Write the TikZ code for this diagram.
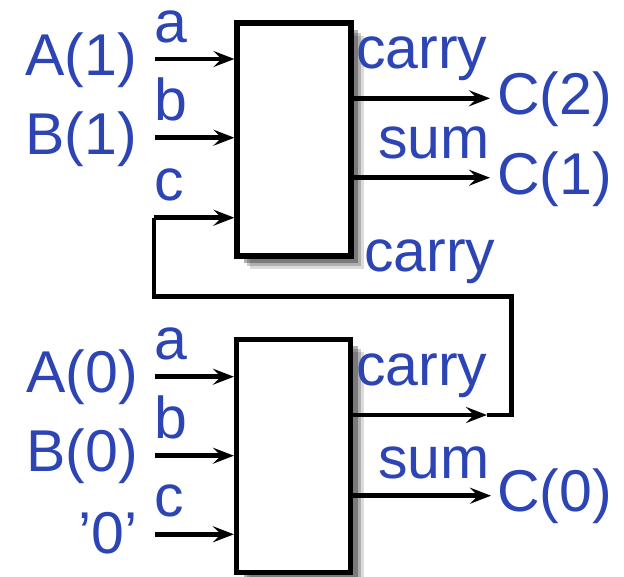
\documentclass[tikz,border=0pt]{standalone}
\usepackage{fontspec}
\setmainfont{Liberation Sans}
\usetikzlibrary{arrows.meta,shadows}
\definecolor{lblue}{RGB}{44,68,180}
\tikzset{
  lbl/.style={inner sep=0pt, text=lblue, font=\fontsize{59}{60}\selectfont, text height=0.72em, text depth=0.2em},
  small/.style={text height=0.55em},
  fabox/.style={draw, line width=5.2pt, fill=white, rectangle, inner sep=0pt,
    minimum width=114pt, minimum height=233pt,
    general shadow={fill=black, opacity=0.14, shadow xshift=13pt, shadow yshift=-13pt},
    general shadow={fill=black, opacity=0.2, shadow xshift=10pt, shadow yshift=-10pt},
    general shadow={fill=black, opacity=0.3, shadow xshift=7pt, shadow yshift=-7pt}},
  wire/.style={line width=4.8pt},
  arr/.style={wire, -{Stealth[length=21pt, width=16pt, inset=8pt]}}
}
\begin{document}
\begin{tikzpicture}[x=1pt, y=-1pt]
\useasboundingbox (0,0) rectangle (624,576);
% boxes
\node[fabox] (U) at (294,139.4) {};
\node[fabox] (L) at (293.5,455.6) {};
% upper inputs
\coordinate (ua) at (155,59);
\coordinate (ub) at (155,137.7);
\coordinate (uc) at (154,217.7);
\draw[arr] (ua) -- (ua -| U.west);
\draw[arr] (ub) -- (ub -| U.west);
% lower inputs
\coordinate (la) at (155,376.7);
\coordinate (lb) at (155,455.7);
\coordinate (lc) at (155,534.3);
\draw[arr] (la) -- (la -| L.west);
\draw[arr] (lb) -- (lb -| L.west);
\draw[arr] (lc) -- (lc -| L.west);
% upper outputs
\coordinate (ucar) at (490,98.3);
\coordinate (usum) at (490,177.7);
\draw[arr] (ucar -| U.east) -- (ucar);
\draw[arr] (usum -| U.east) -- (usum);
% lower outputs
\coordinate (lcar) at (487,415);
\coordinate (lsum) at (491,495.7);
\draw[arr] (lcar -| L.east) -- (lcar);
\draw[arr] (lsum -| L.east) -- (lsum);
% carry loop
\coordinate (r1) at (511.7,415);
\coordinate (r2) at (511.7,296.5);
\coordinate (l2) at (154,296.5);
\draw[wire, line join=miter] (lcar) -- (r1) -- (r2) -- (l2) -- (uc);
\draw[arr] (uc) -- (uc -| U.west);
% labels
\node[lbl, anchor=base east] (tA1) at (137,75) {A(1)};
\node[lbl, anchor=base east] (tB1) at (137,154) {B(1)};
\node[lbl, small, anchor=base west] (ta1) at (154,42.7) {a};
\node[lbl, anchor=base west] (tb1) at (154,120.7) {b};
\node[lbl, small, anchor=base west] (tc1) at (154,200) {c};
\node[lbl, small, anchor=base west] (tcar1) at (356,68.3) {carry};
\node[lbl, anchor=base west] (tC2) at (497,114.3) {C(2)};
\node[lbl, small, anchor=base west] (tsum1) at (378,158.3) {sum};
\node[lbl, anchor=base west] (tC1) at (497,194.3) {C(1)};
\node[lbl, small, anchor=base west] (tcar2) at (364,271.7) {carry};
\node[lbl, anchor=base east] (tA0) at (138,392.7) {A(0)};
\node[lbl, anchor=base east] (tB0) at (138,471.7) {B(0)};
\node[lbl, anchor=base east] (t00) at (138,553.3) {’0’};
\node[lbl, small, anchor=base west] (ta0) at (154,359.3) {a};
\node[lbl, anchor=base west] (tb0) at (154,438) {b};
\node[lbl, small, anchor=base west] (tc0) at (154,516.7) {c};
\node[lbl, small, anchor=base west] (tcar0) at (356,385) {carry};
\node[lbl, small, anchor=base west] (tsum0) at (378,478.3) {sum};
\node[lbl, anchor=base west] (tC0) at (497,511) {C(0)};
\end{tikzpicture}
\end{document}
